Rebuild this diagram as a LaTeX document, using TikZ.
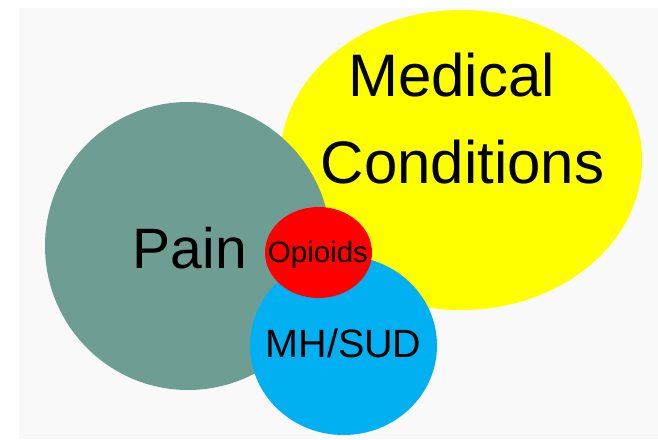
\documentclass[tikz,border=0pt]{standalone}
\usepackage{fontspec}
\setmainfont{Liberation Sans}
\usepackage{tikz}
\usetikzlibrary{positioning}

\definecolor{medyellow}{RGB}{255,255,0}
\definecolor{opired}{RGB}{255,0,0}
\definecolor{painteal}{RGB}{110,157,147}
\definecolor{mhblue}{RGB}{0,176,240}
\definecolor{backgray}{RGB}{249,249,249}

\begin{document}
\begin{tikzpicture}[x=1pt, y=-1pt,
    lbl/.style={inner sep=0pt, anchor=base, text=black},
    big/.style={lbl, font=\fontsize{60}{60}\selectfont}]
  \useasboundingbox (0,0) rectangle (658,439);
  \fill[backgray] (19,8) rectangle (658,439);
  % circles, back to front
  \fill[medyellow] (461,160) ellipse [x radius=181, y radius=150];
  \fill[painteal]  (188,246) ellipse [x radius=143, y radius=144];
  \fill[mhblue]    (343.5,345.5) ellipse [x radius=93.5, y radius=89.5];
  \fill[opired]    (318.5,252.5) ellipse [x radius=53.5, y radius=45.5];
  \node[big] (medical)    at (451.5,96)  {Medical};
  \node[big] (conditions) at (462.5,183) {Conditions};
  \node[lbl, font=\fontsize{57}{57}\selectfont] (pain) at (190,268) {Pain};
  \node[lbl, font=\fontsize{39.5}{40}\selectfont] (mhsud) at (343.5,357) {MH/SUD};
  \node[lbl, font=\fontsize{29.5}{30}\selectfont] (opioids) at (318,262) {Opioids};
\end{tikzpicture}
\end{document}
